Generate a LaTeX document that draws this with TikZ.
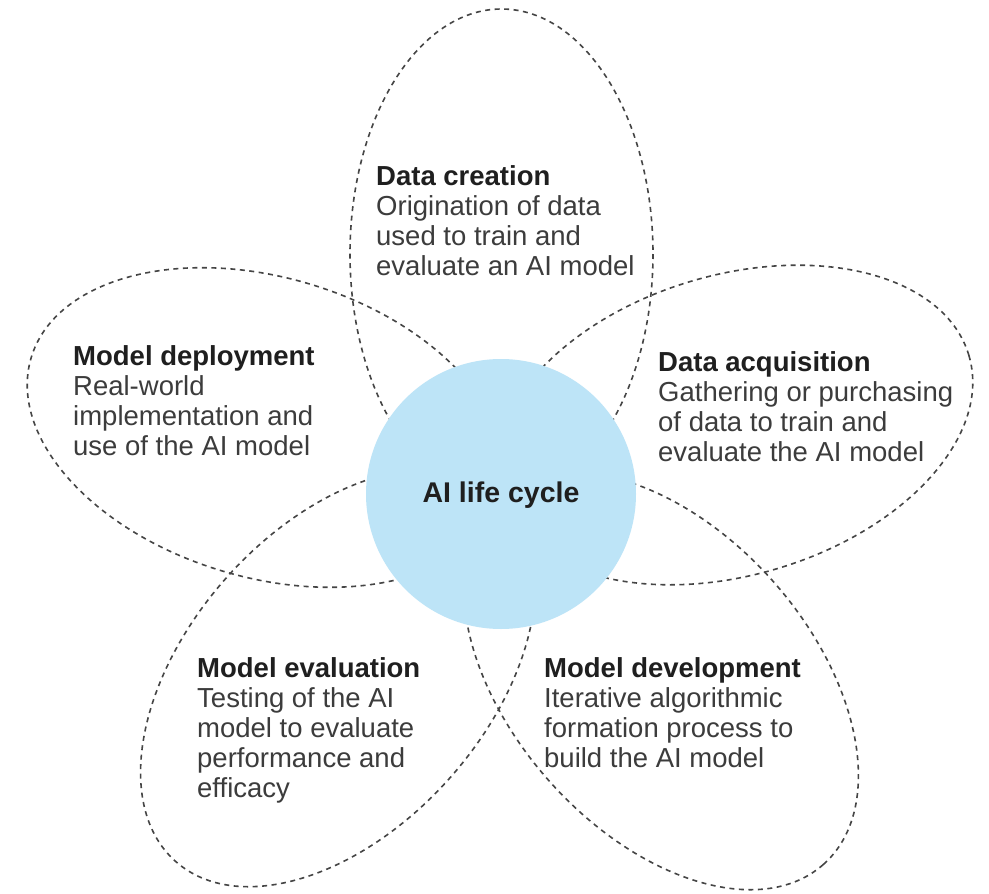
\documentclass[tikz,border=0pt]{standalone}
\usepackage{fontspec}
\setmainfont{Liberation Sans}
\definecolor{petalgray}{HTML}{454545}
\definecolor{hubblue}{HTML}{BDE4F7}
\definecolor{bodytxt}{HTML}{3C3C3C}
\definecolor{titletxt}{HTML}{1F1F1F}
\begin{document}
\begin{tikzpicture}[x=1pt,y=-1pt,
  petal/.style={draw=petalgray, line width=1.6pt, dash pattern=on 5pt off 4.5pt},
  stagetext/.style={anchor=north west, inner sep=0pt, align=left, text=bodytxt,
    font=\fontsize{27.5}{30}\selectfont}
]
\fill[white] (0,0) rectangle (989,894);
\useasboundingbox (0,0) rectangle (989,894);

% petals
\draw[petal] (501.5,254) ellipse [x radius=151.5, y radius=245];
\draw[petal, rotate around={-16.5:(266,427.5)}] (266,427.5) ellipse [x radius=245, y radius=150];
\draw[petal, rotate around={16.5:(734,425)}] (734,425) ellipse [x radius=245, y radius=150];
\draw[petal, rotate around={48.5:(338,678)}] (338,678) ellipse [x radius=245, y radius=150];
\draw[petal, rotate around={-48.5:(661,681)}] (661,681) ellipse [x radius=245, y radius=150];

% hub
\node[circle, fill=hubblue, minimum size=270pt, inner sep=0pt] (hub) at (501,494) {};
\node[anchor=base, inner sep=0pt, text=titletxt, font=\fontsize{28.5}{30}\selectfont\bfseries] (hublabel) at (501,502) {AI life cycle};

% stage texts
\node[stagetext] (creation) at (376,165)
  {{\color{titletxt}\bfseries Data creation}\\Origination of data\\used to train and\\evaluate an AI model};
\node[stagetext] (deployment) at (73,345)
  {{\color{titletxt}\bfseries Model deployment}\\Real-world\\implementation and\\use of the AI model};
\node[stagetext] (acquisition) at (658,351)
  {{\color{titletxt}\bfseries Data acquisition}\\Gathering or purchasing\\of data to train and\\evaluate the AI model};
\node[stagetext] (evaluation) at (197,657)
  {{\color{titletxt}\bfseries Model evaluation}\\Testing of the AI\\model to evaluate\\performance and\\efficacy};
\node[stagetext] (development) at (544,657)
  {{\color{titletxt}\bfseries Model development}\\Iterative algorithmic\\formation process to\\build the AI model};
\end{tikzpicture}
\end{document}
